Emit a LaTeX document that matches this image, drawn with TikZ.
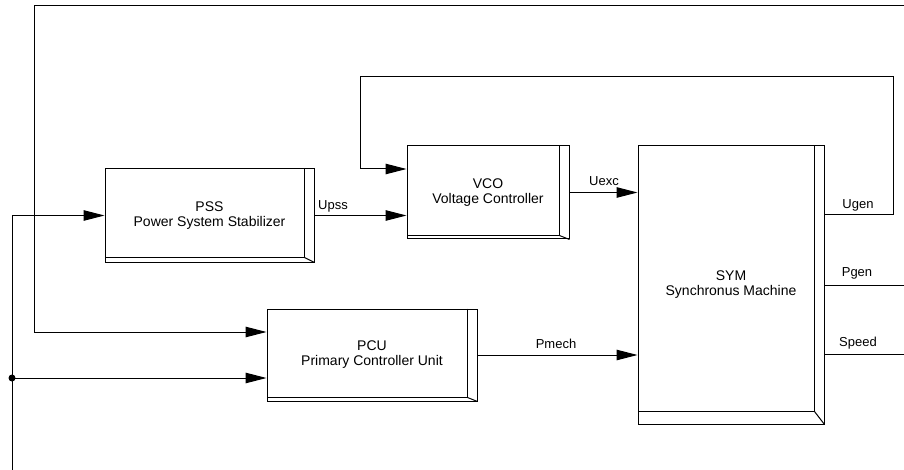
\documentclass[tikz,border=0pt]{standalone}
\usepackage{fontspec}
\setmainfont{Liberation Sans}
\usetikzlibrary{arrows.meta}
\tikzset{
  block/.style={draw, line width=1pt, align=center, inner sep=0pt,
    font=\fontsize{14}{15}\selectfont},
  wire/.style={line width=1pt},
  sig/.style={wire, -{Triangle[length=21pt,width=10.5pt]}},
  lbl/.style={inner sep=0pt, font=\fontsize{13}{15}\selectfont}
}
\begin{document}
\begin{tikzpicture}[x=1pt,y=-1pt]
\useasboundingbox (0,0) rectangle (904,470);
% blocks
\node[block, minimum width=209pt, minimum height=93pt] (pss) at (209.5,215.5) {PSS\\Power System Stabilizer};
\node[block, minimum width=162pt, minimum height=93pt] (vco) at (488,192.5) {VCO\\Voltage Controller};
\node[block, minimum width=186pt, minimum height=278pt] (sym) at (731,285) {SYM\\Synchronus Machine};
\node[block, minimum width=210pt, minimum height=92pt] (pcu) at (372,355) {PCU\\Primary Controller Unit};
\foreach \n/\dy in {pss/5,vco/4,pcu/4,sym/13}{
  \draw[wire] ([xshift=-10pt]\n.north east) |- ([yshift=\dy pt]\n.south west);
  \draw[wire] ([xshift=-10pt,yshift=\dy pt]\n.south east) -- (\n.south east);
}
% signals between blocks
\draw[sig] (pss.east) -- (pss.east -| vco.west);
\draw[sig] (vco.east) -- (vco.east -| sym.west);
\draw[sig] (pcu.east) -- (pcu.east -| sym.west);
\node[lbl] (upss) at (333,206) {Upss};
\node[lbl] (uexc) at (604,181) {Uexc};
\node[lbl] (pmech) at (556,344) {Pmech};
% voltage feedback loop
\coordinate (ugen) at (893,215);
\coordinate (looptop) at (360,77);
\draw[sig] (sym.east |- ugen) -- (ugen) |- (looptop) |- ([yshift=23.5pt]vco.west);
% outputs
\coordinate (pgen) at (904,285);
\coordinate (speed) at (904,354);
\draw[wire] (sym.east |- pgen) -- (pgen);
\draw[wire] (sym.east |- speed) -- (speed);
\node[lbl] (ugenlbl) at (858,205) {Ugen};
\node[lbl] (pgenlbl) at (857,273) {Pgen};
\node[lbl] (speedlbl) at (858,343) {Speed};
% long feedback to PCU
\coordinate (topR) at (904,6);
\coordinate (topL) at (34,6);
\draw[sig] (topR) -- (topL) |- ([yshift=23pt]pcu.west);
% left input
\coordinate (bot) at (12,470);
\coordinate (tap) at (12,378);
\draw[sig] (bot) |- (pss.west);
\draw[sig] (tap) -- (tap -| pcu.west);
\fill (tap) circle (3.5pt);
\end{tikzpicture}
\end{document}
